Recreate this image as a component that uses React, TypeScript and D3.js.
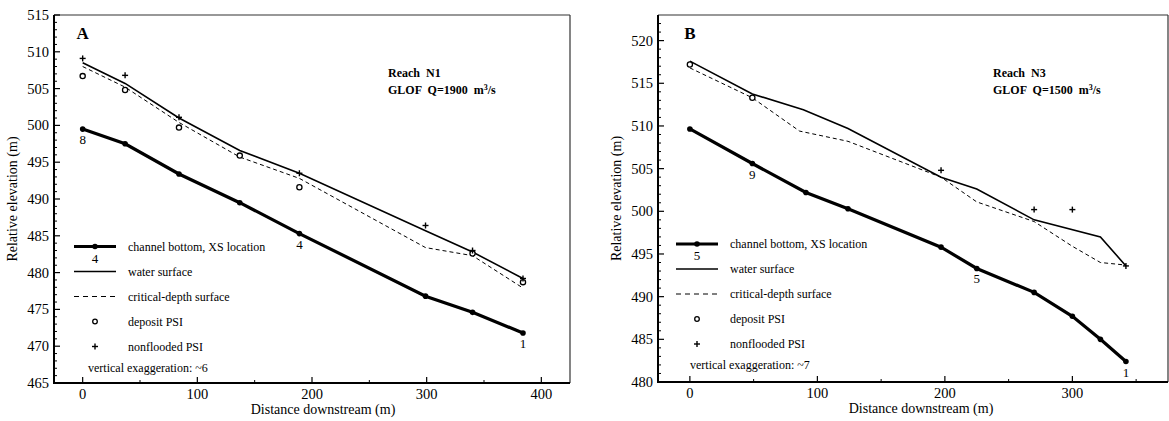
import React from "react";
import * as d3 from "d3";

// ---------- Panel A data (Reach N1) ----------
const aBottomX = [0, 37, 84, 137, 189, 299, 340, 384];
const aBottomY = [499.5, 497.5, 493.4, 489.5, 485.3, 476.8, 474.6, 471.8];
const aWaterX = [0, 37, 84, 137, 189, 299, 340, 384];
const aWaterY = [508.5, 505.7, 501.0, 496.6, 493.5, 485.7, 482.8, 479.2];
const aCritX = [0, 37, 84, 137, 189, 299, 340, 384];
const aCritY = [508.0, 505.2, 500.4, 495.7, 492.8, 483.4, 482.3, 477.9];
const aDepositX = [0, 37, 84, 137, 189, 340, 384];
const aDepositY = [506.7, 504.8, 499.7, 495.9, 491.6, 482.6, 478.7];
const aNonfloodX = [0, 37, 84, 189, 299, 340, 384];
const aNonfloodY = [509.1, 506.8, 501.1, 493.5, 486.4, 483.0, 479.2];
const aLabelX = [0, 189, 384];
const aLabelText = ["8", "4", "1"];

// ---------- Panel B data (Reach N3) ----------
const bBottomX = [0, 49, 91, 124, 197, 225, 270, 300, 322, 342];
const bBottomY = [509.65, 505.6, 502.2, 500.3, 495.8, 493.3, 490.5, 487.7, 485.0, 482.4];
const bWaterX = [0, 49, 89, 124, 197, 225, 270, 322, 342];
const bWaterY = [517.6, 513.75, 511.9, 509.7, 504.0, 502.6, 499.0, 497.0, 493.6];
const bCritX = [0, 49, 86, 124, 197, 225, 270, 300, 322, 342];
const bCritY = [516.8, 513.3, 509.4, 508.2, 504.0, 501.1, 498.8, 495.9, 494.0, 493.7];
const bDepositX = [0, 49];
const bDepositY = [517.2, 513.3];
const bNonfloodX = [197, 270, 300, 342];
const bNonfloodY = [504.8, 500.2, 500.2, 493.6];
const bLabelX = [49, 225, 342];
const bLabelText = ["9", "5", "1"];

// ---------- shared text ----------
const legendLabels = [
  "channel bottom, XS location",
  "water surface",
  "critical-depth surface",
  "deposit PSI",
  "nonflooded PSI",
];
const xTitle = "Distance downstream (m)";
const yTitle = "Relative elevation (m)";

const FONT = "'Liberation Serif', 'Times New Roman', serif";

type PanelProps = {
  left: number;
  right: number;
  top: number;
  bottom: number;
  xDomain: [number, number];
  yDomain: [number, number];
  xMajor: number[];
  xMinor: number[];
  yMajor: number[];
  yMinor: number[];
  bottomX: number[];
  bottomY: number[];
  waterX: number[];
  waterY: number[];
  critX: number[];
  critY: number[];
  depX: number[];
  depY: number[];
  nonX: number[];
  nonY: number[];
  labX: number[];
  labText: string[];
  letter: string;
  reach: string;
  glof: string;
  reachX: number;
  legendNum: string;
  exaggeration: string;
  legX: number;
  legY: number;
  yTitleX: number;
  xTitleShift: number;
};

function Panel(p: PanelProps) {
  const x = d3.scaleLinear().domain(p.xDomain).range([p.left, p.right]);
  const y = d3.scaleLinear().domain(p.yDomain).range([p.bottom, p.top]);
  const line = (xs: number[], ys: number[]) =>
    d3
      .line<number>()
      .x((_, i) => x(xs[i]))
      .y((d) => y(d))(ys) || "";
  const yAt = (xs: number[], ys: number[], v: number) => ys[xs.indexOf(v)];
  const lg = p.legX;
  const rowGap = 25;
  return (
    <g>
      {/* frame */}
      <line x1={p.left} x2={p.right} y1={p.top} y2={p.top} stroke="#333" strokeWidth={1.2} />
      <line x1={p.right} x2={p.right} y1={p.top} y2={p.bottom} stroke="#333" strokeWidth={1.2} />
      <line x1={p.left} x2={p.left} y1={p.top} y2={p.bottom + 1} stroke="#000" strokeWidth={2} />
      <line x1={p.left - 1} x2={p.right} y1={p.bottom} y2={p.bottom} stroke="#000" strokeWidth={2} />
      {/* y ticks */}
      {p.yMinor.map((v) => (
        <line key={"ym" + v} x1={p.left} x2={p.left + 3} y1={y(v)} y2={y(v)} stroke="#000" strokeWidth={1} />
      ))}
      {p.yMajor.map((v) => (
        <g key={"yM" + v}>
          <line x1={p.left} x2={p.left + 6} y1={y(v)} y2={y(v)} stroke="#000" strokeWidth={1.2} />
          <text x={p.left - 5} y={y(v) + 5} textAnchor="end" fontSize={14.5} fontFamily={FONT}>
            {v}
          </text>
        </g>
      ))}
      {/* x ticks */}
      {p.xMinor.map((v) => (
        <line key={"xm" + v} x1={x(v)} x2={x(v)} y1={p.bottom} y2={p.bottom - 3} stroke="#000" strokeWidth={1} />
      ))}
      {p.xMajor.map((v) => (
        <g key={"xM" + v}>
          <line x1={x(v)} x2={x(v)} y1={p.bottom} y2={p.bottom - 6} stroke="#000" strokeWidth={1.2} />
          <text x={x(v)} y={p.bottom + 16} textAnchor="middle" fontSize={14.5} fontFamily={FONT}>
            {v}
          </text>
        </g>
      ))}
      {/* titles */}
      <text
        x={(p.left + p.right) / 2 + p.xTitleShift}
        y={p.bottom + 31}
        textAnchor="middle"
        fontSize={14}
        fontFamily={FONT}
      >
        {xTitle}
      </text>
      <text
        transform={`translate(${p.yTitleX},${(p.top + p.bottom) / 2}) rotate(-90)`}
        textAnchor="middle"
        fontSize={14}
        fontFamily={FONT}
      >
        {yTitle}
      </text>
      <text x={x(0)} y={p.top + 24} textAnchor="middle" fontSize={17} fontWeight="bold" fontFamily={FONT}>
        {p.letter}
      </text>
      <text x={p.reachX} y={p.top + 62} fontSize={12} fontWeight="bold" fontFamily={FONT} style={{ whiteSpace: "pre" }}>
        {p.reach}
      </text>
      <text x={p.reachX} y={p.top + 79} fontSize={12} fontWeight="bold" fontFamily={FONT} style={{ whiteSpace: "pre" }}>
        {p.glof}
        <tspan dy={-4} fontSize={8}>3</tspan>
        <tspan dy={4}>/s</tspan>
      </text>
      {/* data lines */}
      <path d={line(p.critX, p.critY)} fill="none" stroke="#000" strokeWidth={1} strokeDasharray="4,3" />
      <path d={line(p.waterX, p.waterY)} fill="none" stroke="#000" strokeWidth={1.6} />
      <path d={line(p.bottomX, p.bottomY)} fill="none" stroke="#000" strokeWidth={3.2} />
      {p.bottomX.map((v, i) => (
        <circle key={"b" + i} cx={x(v)} cy={y(p.bottomY[i])} r={2.8} fill="#000" />
      ))}
      {p.depX.map((v, i) => (
        <circle key={"d" + i} cx={x(v)} cy={y(p.depY[i])} r={2.6} fill="#fff" stroke="#000" strokeWidth={1.3} />
      ))}
      {p.nonX.map((v, i) => (
        <g key={"n" + i} stroke="#000" strokeWidth={1.4}>
          <line x1={x(v) - 3} x2={x(v) + 3} y1={y(p.nonY[i])} y2={y(p.nonY[i])} />
          <line x1={x(v)} x2={x(v)} y1={y(p.nonY[i]) - 3} y2={y(p.nonY[i]) + 3} />
        </g>
      ))}
      {p.labX.map((v, i) => (
        <text
          key={"l" + i}
          x={x(v)}
          y={y(yAt(p.bottomX, p.bottomY, v)) + 15}
          textAnchor="middle"
          fontSize={13}
          fontFamily={FONT}
          fill="#000"
        >
          {p.labText[i]}
        </text>
      ))}
      {/* legend */}
      <g>
        <line x1={lg} x2={lg + 42} y1={p.legY} y2={p.legY} stroke="#000" strokeWidth={3.2} />
        <circle cx={lg + 21} cy={p.legY} r={2.8} fill="#000" />
        <text x={lg + 21} y={p.legY + 16} textAnchor="middle" fontSize={13} fontFamily={FONT}>
          {p.legendNum}
        </text>
        <line x1={lg} x2={lg + 42} y1={p.legY + rowGap} y2={p.legY + rowGap} stroke="#000" strokeWidth={1.6} />
        <line
          x1={lg}
          x2={lg + 42}
          y1={p.legY + rowGap * 2}
          y2={p.legY + rowGap * 2}
          stroke="#000"
          strokeWidth={1}
          strokeDasharray="5,4"
        />
        <circle cx={lg + 21} cy={p.legY + rowGap * 3} r={2.3} fill="#fff" stroke="#000" strokeWidth={1.3} />
        <g stroke="#000" strokeWidth={1.4}>
          <line x1={lg + 18} x2={lg + 24} y1={p.legY + rowGap * 4} y2={p.legY + rowGap * 4} />
          <line x1={lg + 21} x2={lg + 21} y1={p.legY + rowGap * 4 - 3} y2={p.legY + rowGap * 4 + 3} />
        </g>
        {legendLabels.map((t, i) => (
          <text key={t} x={lg + 54} y={p.legY + rowGap * i + 4} fontSize={12} fontFamily={FONT}>
            {t}
          </text>
        ))}
        <text x={lg + 14} y={p.legY + 125} fontSize={12} fontFamily={FONT}>
          {p.exaggeration}
        </text>
      </g>
    </g>
  );
}

export default function App() {
  return (
    <svg width={1169} height={421} style={{ position: "absolute", left: 0, top: 0, background: "#fff" }}>
      <rect x={0} y={0} width={1169} height={421} fill="#fff" />
      <Panel
        left={54}
        right={570}
        top={15}
        bottom={383}
        xDomain={[-25, 425]}
        yDomain={[465, 515]}
        xMajor={[0, 100, 200, 300, 400]}
        xMinor={[50, 150, 250, 350]}
        yMajor={d3.range(465, 516, 5)}
        yMinor={d3.range(466, 515, 1).filter((v) => v % 5 !== 0)}
        bottomX={aBottomX}
        bottomY={aBottomY}
        waterX={aWaterX}
        waterY={aWaterY}
        critX={aCritX}
        critY={aCritY}
        depX={aDepositX}
        depY={aDepositY}
        nonX={aNonfloodX}
        nonY={aNonfloodY}
        labX={aLabelX}
        labText={aLabelText}
        letter="A"
        reach="Reach  N1"
        glof="GLOF  Q=1900  m"
        reachX={388}
        legendNum="4"
        exaggeration="vertical exaggeration: ~6"
        legX={74}
        legY={246.5}
        yTitleX={17}
        xTitleShift={11}
      />
      <Panel
        left={658}
        right={1168}
        top={15}
        bottom={382}
        xDomain={[-25, 375]}
        yDomain={[480, 523]}
        xMajor={[0, 100, 200, 300]}
        xMinor={[50, 150, 250, 350]}
        yMajor={d3.range(480, 521, 5)}
        yMinor={d3.range(481, 523, 1).filter((v) => v % 5 !== 0)}
        bottomX={bBottomX}
        bottomY={bBottomY}
        waterX={bWaterX}
        waterY={bWaterY}
        critX={bCritX}
        critY={bCritY}
        depX={bDepositX}
        depY={bDepositY}
        nonX={bNonfloodX}
        nonY={bNonfloodY}
        labX={bLabelX}
        labText={bLabelText}
        letter="B"
        reach="Reach  N3"
        glof="GLOF  Q=1500  m"
        reachX={993}
        legendNum="5"
        exaggeration="vertical exaggeration: ~7"
        legX={676}
        legY={244}
        yTitleX={621}
        xTitleShift={8}
      />
    </svg>
  );
}
